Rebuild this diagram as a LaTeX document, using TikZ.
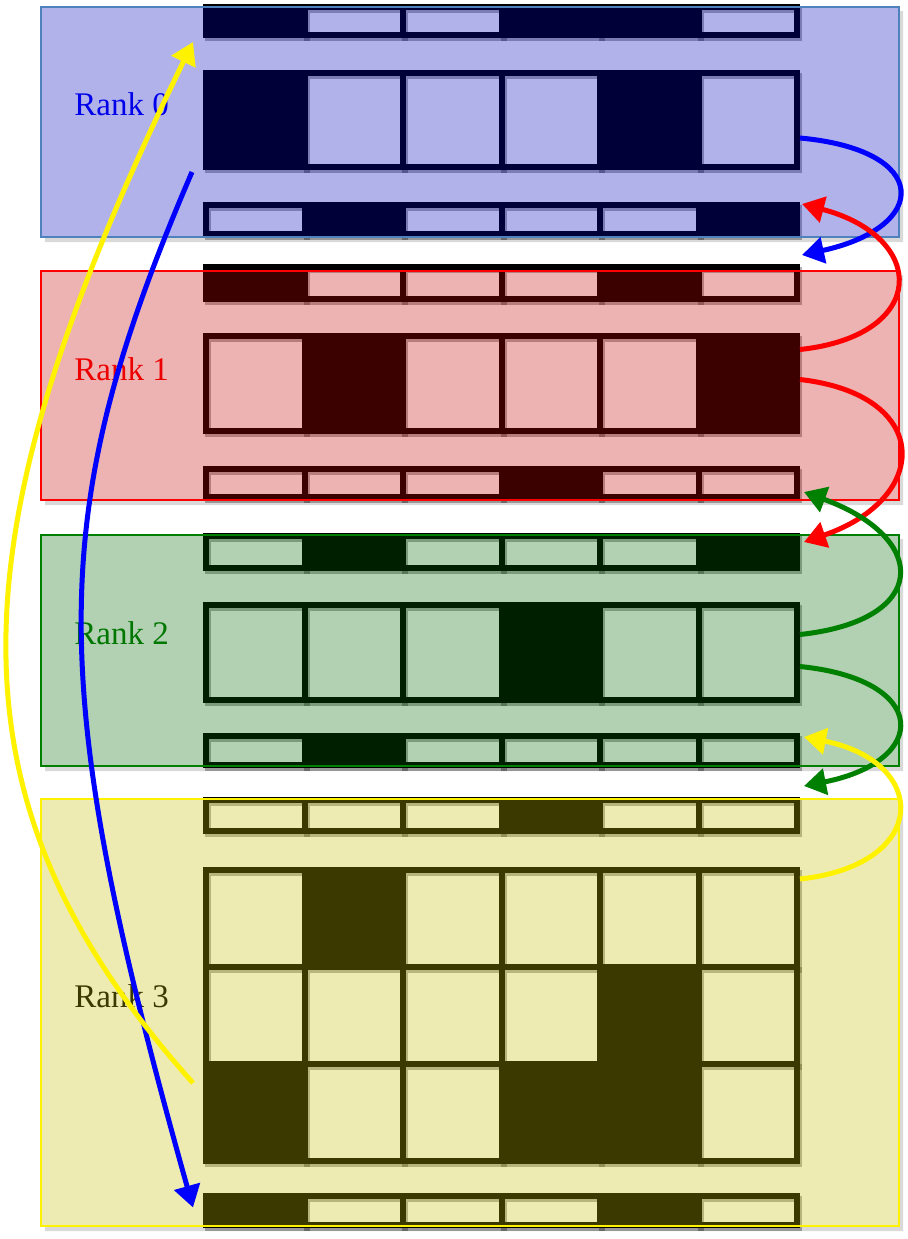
\documentclass[tikz,border=0pt]{standalone}
\usepackage{tikz}
\usepackage{xcolor}
\usepackage{fontspec}
\setmainfont{Liberation Serif}
\usetikzlibrary{arrows.meta,fit}

\definecolor{rzero}{RGB}{0,0,190}
\definecolor{rone}{RGB}{197,0,0}
\definecolor{rtwo}{RGB}{0,100,0}
\definecolor{rthree}{RGB}{197,190,0}
\definecolor{framezero}{RGB}{79,129,189}
\definecolor{linkgreen}{RGB}{0,128,0}

\tikzset{
  cell/.style={draw=black, line width=3pt, inner sep=0pt},
  cellshadow/.style={draw=black, draw opacity=.3, line width=3pt},
  rankbox/.style={fill=#1, fill opacity=.3, line width=.75pt, inner sep=0pt},
  rankshadow/.style={fill=black, fill opacity=.15},
  ranklabel/.style={anchor=west, inner sep=0pt, font=\fontsize{16.5}{19}\selectfont},
  link/.style={line width=2.5pt, -{Triangle[length=11pt,width=13pt]}},
}

% one row of six cells, 1 = full, 0 = empty
\newcommand{\cellrow}[4]{%
  \foreach \d [count=\i] in {#4} {
    \pgfmathsetmacro{\xl}{206+98.5*(\i-1)}
    \pgfmathsetmacro{\xr}{\xl+98.5}
    \ifnum\d=1 \def\cf{black}\else \def\cf{white}\fi
    \node[cell, fill=\cf, fit={(\xl,#2) (\xr,#3)}] (#1-\i) {};
    \draw[cellshadow] (\xl+2,#2+3) rectangle (\xr+2,#3+3);
  }
}

\begin{document}
\begin{tikzpicture}[x=0.5pt, y=-0.5pt]
  \useasboundingbox (0,0) rectangle (908,1239);

  % shadows of the rank boxes
  \fill[rankshadow] (45,237) rectangle (903,242) (899,11) rectangle (903,237);
  \fill[rankshadow] (45,500) rectangle (903,505) (899,275) rectangle (903,500);
  \fill[rankshadow] (45,766) rectangle (903,771) (899,539) rectangle (903,766);
  \fill[rankshadow] (45,1226) rectangle (903,1231) (899,803) rectangle (903,1226);

  % rank 0
  \cellrow{r0t}{7}{35}{1,0,0,1,1,0}
  \cellrow{r0m}{73}{167}{1,0,0,0,1,0}
  \cellrow{r0b}{205}{234}{0,1,0,0,0,1}
  % rank 1
  \cellrow{r1t}{267}{299}{1,0,0,0,1,0}
  \cellrow{r1m}{336}{431}{0,1,0,0,0,1}
  \cellrow{r1b}{469}{497}{0,0,0,1,0,0}
  % rank 2
  \cellrow{r2t}{536}{568}{0,1,0,0,0,1}
  \cellrow{r2m}{605}{700}{0,0,0,1,0,0}
  \cellrow{r2b}{736}{765}{0,1,0,0,0,0}
  % rank 3
  \cellrow{r3t}{800}{831}{0,0,0,1,0,0}
  \cellrow{r3ma}{870}{967}{0,1,0,0,0,0}
  \cellrow{r3mb}{967}{1064}{0,0,0,0,1,0}
  \cellrow{r3mc}{1064}{1161}{1,0,0,1,1,0}
  \cellrow{r3b}{1196}{1225}{1,0,0,0,1,0}

  \node[ranklabel, text=blue] (lab0) at (74,104) {Rank 0};
  \node[ranklabel, text=red] (lab1) at (74,369) {Rank 1};
  \node[ranklabel, text=linkgreen] (lab2) at (74,633) {Rank 2};
  \node[ranklabel, text=black] (lab3) at (74,996) {Rank 3};

  \node[rankbox=rzero, draw=framezero, fit={(41,7) (899,237)}] (rank0) {};
  \node[rankbox=rone, draw=red, fit={(41,271) (899,500)}] (rank1) {};
  \node[rankbox=rtwo, draw=linkgreen, fit={(41,535) (899,766)}] (rank2) {};
  \node[rankbox=rthree, draw=yellow, fit={(41,799) (899,1226)}] (rank3) {};

  % halo exchange
  \draw[link, blue] ([yshift=-9pt]r0m-6.east) .. controls +(132,12) and +(128,-28) .. ([xshift=1pt,yshift=4.5pt]r1t-6.north east);
  \draw[link, red] ([yshift=17pt]r1m-6.east) .. controls +(129,-14) and +(126,33) .. ([xshift=1pt,yshift=-1pt]r0b-6.north east);
  \draw[link, red] ([yshift=2pt]r1m-6.east) .. controls +(132,15) and +(128,-44) .. ([xshift=2pt,yshift=-4.5pt]r2t-6.north east);
  \draw[link, linkgreen] ([yshift=9pt]r2m-6.east) .. controls +(130,-14) and +(126,46) .. ([xshift=2pt,yshift=4pt]r1b-6.south east);
  \draw[link, linkgreen] ([yshift=-7pt]r2m-6.east) .. controls +(130,13) and +(126,-25) .. ([xshift=2pt,yshift=5.5pt]r3t-6.north east);
  \draw[link, yellow] ([yshift=-6pt]r3ma-6.north east) .. controls +(130,-14) and +(126,25) .. ([xshift=2pt,yshift=-2pt]r2b-6.north east);
  \draw[link, blue] ([xshift=-5.5pt,yshift=-1pt]r0m-1.south west) .. controls +(-147,342) and +(-148,-527) .. ([xshift=-5pt,yshift=1.5pt]r3b-1.west);
  \draw[link, yellow] ([xshift=-5pt,yshift=-11pt]r3mc-1.north west) .. controls +(-253,-283) and +(-243,498) .. ([xshift=-5pt,yshift=-2pt]r0t-1.south west);
\end{tikzpicture}
\end{document}
